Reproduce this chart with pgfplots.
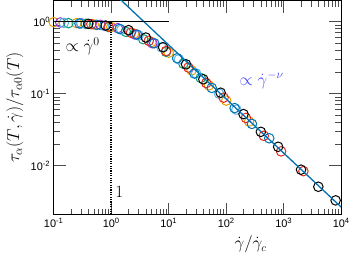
\documentclass[border=0pt]{standalone}
\usepackage[no-math]{fontspec}
\usepackage{pgfplots}
\pgfplotsset{compat=1.18}
\newfontfamily\tickfont{Liberation Sans}
\definecolor{corange}{HTML}{E69F00}
\definecolor{cpurple}{HTML}{9932CC}
\definecolor{cteal}{HTML}{009E73}
\definecolor{clblue}{HTML}{56B4E9}
\definecolor{cred}{HTML}{E8281E}
\definecolor{cblue}{HTML}{0072B2}
\definecolor{ctext}{HTML}{4646F5}
\begin{document}
\begin{tikzpicture}
\begin{axis}[name=ax, xmode=log, ymode=log, scale only axis, width=289pt, height=215pt,
  xmin=0.1, xmax=10000, ymin=0.0021, ymax=1.95,
  tick align=inside, major tick length=12pt, minor tick length=6pt,
  axis line style={line width=1.3pt},
  every tick/.style={black!70, line width=0.6pt},
  xtick={0.1,1,10,100,1000,10000},
  xticklabels={{\tickfont 10\textsuperscript{-1}},{\tickfont 10\textsuperscript{0}},{\tickfont 10\textsuperscript{1}},{\tickfont 10\textsuperscript{2}},{\tickfont 10\textsuperscript{3}},{\tickfont 10\textsuperscript{4}}},
  ytick={0.01,0.1,1},
  yticklabels={{\tickfont 10\textsuperscript{-2}},{\tickfont 10\textsuperscript{-1}},{\tickfont 10\textsuperscript{0}}},
  ticklabel style={font=\fontsize{11}{13}\selectfont},
  xlabel={$\dot\gamma/\dot\gamma_c$},
  ylabel={$\tau_\alpha(T,\dot\gamma)/\tau_{\alpha 0}(T)$},
  xlabel style={at={(axis description cs:0.685,-0.14)},anchor=center,font=\fontsize{16}{18}\selectfont},
  ylabel style={at={(axis description cs:-0.135,0.5)},anchor=center,font=\fontsize{18}{20}\selectfont},
  clip mode=individual,
  every axis plot/.append style={only marks, mark=o, mark size=4.8pt, line width=1pt},
]
\addplot[corange] coordinates {(0.1,0.98) (0.25,0.95) (0.5,0.91) (1.0,0.84) (2.5,0.68) (5,0.52) (10,0.37) (25,0.21) (50,0.13) (100,0.080) (250,0.041)};
\addplot[cpurple] coordinates {(0.13,0.97) (0.3,0.95) (0.65,0.90) (1.3,0.81) (2.6,0.66) (5.2,0.50)};
\addplot[cteal] coordinates {(0.18,0.95) (0.36,0.93) (0.9,0.84) (1.8,0.72) (3.6,0.57) (9,0.38) (18,0.26) (36,0.165)};
\addplot[clblue] coordinates {(0.15,0.96) (0.3,0.94) (0.75,0.87) (1.5,0.77) (3,0.64) (7.5,0.44) (15,0.30) (30,0.19) (75,0.10) (150,0.060)};
\addplot[cred] coordinates {(0.45,0.92) (0.9,0.85) (2.2,0.70) (4.5,0.54) (9,0.39) (22,0.23) (45,0.14) (90,0.088) (220,0.046) (450,0.026) (900,0.0158) (2200,0.0084)};
\addplot[cblue] coordinates {(0.28,0.94) (0.56,0.90) (1.4,0.79) (2.8,0.66) (5.6,0.50) (14,0.31) (28,0.19) (56,0.12) (140,0.063) (280,0.038) (560,0.024)};
\addplot[black] coordinates {(0.4,0.93) (0.8,0.88) (2,0.76) (4,0.60) (8,0.44) (20,0.255) (40,0.158) (80,0.103) (200,0.052) (400,0.0295) (800,0.0183) (2000,0.0088) (4000,0.0051) (8000,0.0033)};
% guide lines
\addplot[cblue, no marks, line width=1.3pt, sharp plot] coordinates {(1,2.66) (10000,0.00266)};
\addplot[black, no marks, line width=1.3pt, sharp plot] coordinates {(0.1,1) (10,1)};
\addplot[black, no marks, line width=1.8pt, dash pattern=on 1.2pt off 1.2pt, sharp plot] coordinates {(1,0.0021) (1,1)};
\node[font=\fontsize{17}{19}\selectfont] at (axis cs:0.318,0.452) {$\propto\dot\gamma^{0}$};
\node[font=\fontsize{17}{19}\selectfont] at (axis cs:1.39,0.00437) {$1$};
\node[font=\fontsize{17}{19}\selectfont, text=ctext] at (axis cs:413,0.153) {$\propto\dot\gamma^{-\nu}$};
\end{axis}
\path ([shift={(-54pt,-41pt)}]ax.south west) rectangle ([shift={(10pt,0pt)}]ax.north east);
\end{tikzpicture}
\end{document}
